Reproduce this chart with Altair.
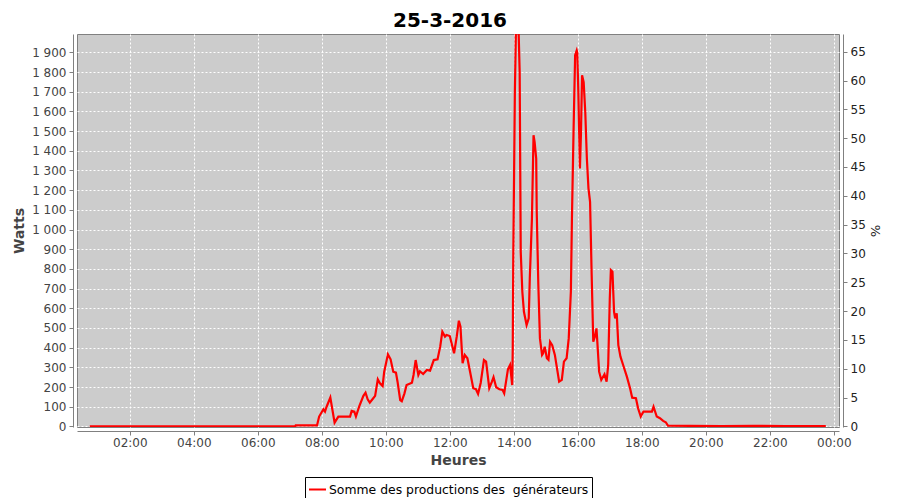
import altair as alt
import pandas as pd

# ---- data ----
times = ["00:45", "07:10", "07:11", "07:51", "07:55", "08:03", "08:06", "08:09", "08:16", "08:24",
         "08:31", "08:53", "08:56", "09:01", "09:04", "09:10", "09:18", "09:22", "09:26", "09:30",
         "09:35", "09:40", "09:45", "09:49", "09:54", "09:57", "10:04", "10:09", "10:14", "10:19",
         "10:22", "10:27", "10:30", "10:35", "10:39", "10:49", "10:52", "10:56", "11:01", "11:04",
         "11:10", "11:17", "11:23", "11:30", "11:37", "11:42", "11:46", "11:51", "11:54", "12:00",
         "12:05", "12:08", "12:13", "12:17", "12:20", "12:24", "12:28", "12:33", "12:38", "12:44",
         "12:49", "12:53", "12:58", "13:04", "13:08", "13:14", "13:19", "13:22", "13:27", "13:33",
         "13:39", "13:42", "13:49", "13:53", "13:57", "13:58", "13:59", "14:02", "14:04", "14:09",
         "14:11", "14:13", "14:16", "14:19", "14:24", "14:28", "14:30", "14:34", "14:37", "14:39",
         "14:42", "14:43", "14:46", "14:49", "14:53", "14:55", "14:58", "15:02", "15:05", "15:08",
         "15:12", "15:17", "15:22", "15:25", "15:30", "15:34", "15:39", "15:43", "15:47", "15:49",
         "15:52", "15:55", "15:58", "15:59", "16:01", "16:04", "16:06", "16:08", "16:11", "16:14",
         "16:17", "16:20", "16:23", "16:26", "16:29", "16:32", "16:35", "16:37", "16:40", "16:44",
         "16:50", "16:54", "16:57", "17:00", "17:02", "17:05", "17:08", "17:10", "17:13", "17:16",
         "17:20", "17:25", "17:32", "17:38", "17:42", "17:49", "17:53", "17:58", "18:03", "18:12",
         "18:19", "18:22", "18:28", "18:34", "18:40", "18:45", "18:49", "19:30", "20:30", "21:30",
         "22:30", "23:45"]
watts = [0, 0, 5, 5, 50, 87, 75, 100, 147, 19,
         50, 50, 79, 75, 50, 100, 155, 171, 138, 121,
         138, 155, 239, 219, 205, 278, 366, 341, 278, 273,
         227, 134, 128, 168, 210, 222, 261, 337, 261, 280,
         266, 287, 283, 337, 341, 405, 481, 456, 464, 459,
         405, 371, 456, 537, 506, 321, 363, 346, 278, 194,
         189, 165, 222, 337, 329, 194, 227, 250, 199, 189,
         185, 168, 290, 312, 210, 388, 853, 1699, 2010, 2010,
         1800, 887, 684, 582, 515, 549, 752, 1056, 1479, 1445,
         1361, 1090, 718, 447, 363, 371, 405, 346, 338, 430,
         413, 363, 278, 227, 236, 329, 346, 447, 684, 1056,
         1496, 1885, 1910, 1900, 1699, 1310, 1496, 1783, 1749, 1597,
         1361, 1209, 1141, 769, 430, 456, 498, 413, 278, 236,
         265, 227, 312, 650, 794, 786, 582, 549, 574, 413,
         354, 312, 253, 194, 146, 143, 92, 50, 75, 75,
         75, 100, 50, 42, 28, 21, 4, 3, 2, 3,
         2, 2]

series_name = "Somme des productions des\u00a0 générateurs"
title_text = ["25-3-2016"]
x_tick_minutes = [120, 240, 360, 480, 600, 720, 840, 960, 1080, 1200, 1320, 1440]
y_ticks_watts = list(range(0, 2000, 100))
y_ticks_pct = list(range(0, 70, 5))
watts_per_pct = 29.28
x_domain = [21, 1449.75]
y_domain = [-3, 1993]

df = pd.DataFrame({"t": times, "w": watts})
df["minutes"] = df["t"].str.slice(0, 2).astype(int) * 60 + df["t"].str.slice(3, 5).astype(int)
df["pct"] = df["w"] / watts_per_pct
df["serie"] = series_name

FONT = "DejaVu Sans"

x_enc = alt.X(
    "minutes:Q",
    scale=alt.Scale(domain=x_domain, nice=False, zero=False),
    axis=alt.Axis(
        values=x_tick_minutes,
        labelExpr="pad(toString(floor(datum.value / 60) % 24), 2, '0', 'left') + ':00'",
        title="Heures",
        titleFont=FONT, titleFontSize=14, titleFontWeight="bold", titleColor="#444444",
        titlePadding=5,
        labelFont=FONT, labelFontSize=12, labelColor="#444444", labelPadding=2,
        offset=4, tickSize=4, tickColor="#808080", domainColor="#808080",
        labelFlush=False, labelOverlap=False,
        grid=True,
    ),
)

line = alt.Chart(df).mark_line(strokeWidth=2.2, clip=True).encode(
    x=x_enc,
    y=alt.Y(
        "w:Q",
        scale=alt.Scale(domain=y_domain, nice=False, zero=False),
        axis=alt.Axis(
            values=y_ticks_watts,
            labelExpr="replace(format(datum.value, ','), ',', ' ')",
            title="Watts",
            titleFont=FONT, titleFontSize=14, titleFontWeight="bold", titleColor="#444444",
            titlePadding=5,
            labelFont=FONT, labelFontSize=12, labelColor="#444444", labelPadding=3,
            offset=4, tickSize=4, tickColor="#808080", domainColor="#808080",
            labelOverlap=False, labelFlush=False,
            grid=True,
        ),
    ),
    color=alt.Color(
        "serie:N",
        scale=alt.Scale(range=["#ff0000"]),
        legend=alt.Legend(
            title=None,
            orient="none",
            legendX=228,
            legendY=443,
            strokeColor="black",
            fillColor="white",
            padding=3,
            symbolType="stroke",
            symbolSize=289,
            symbolStrokeWidth=2,
            labelFont=FONT,
            labelFontSize=12.4,
            labelColor="black",
            labelOffset=2,
            labelLimit=500,
            cornerRadius=0,
        ),
    ),
)

pct_layer = alt.Chart(df).mark_line(opacity=0, clip=True).encode(
    x=x_enc,
    y=alt.Y(
        "pct:Q",
        scale=alt.Scale(domain=[y_domain[0] / watts_per_pct, y_domain[1] / watts_per_pct], nice=False, zero=False),
        axis=alt.Axis(
            orient="right",
            values=y_ticks_pct,
            title="%",
            titleFont=FONT, titleFontSize=13, titleFontWeight="normal", titleColor="#222222",
            titlePadding=2,
            labelFont=FONT, labelFontSize=12, labelColor="#222222", labelPadding=3,
            offset=4, tickSize=4, tickColor="#808080", domainColor="#808080",
            labelOverlap=False, labelFlush=False,
            grid=False,
        ),
    ),
)

title_layer = alt.Chart(pd.DataFrame({"label": title_text})).mark_text(
    font=FONT, fontSize=20, fontWeight="bold", color="black",
    align="center", baseline="alphabetic",
).encode(
    x=alt.value(373),
    y=alt.value(-7),
    text="label:N",
)

chart = (
    alt.layer(line, pct_layer, title_layer)
    .resolve_scale(y="independent")
    .properties(
        width=762,
        height=393,
        autosize=alt.AutoSizeParams(type="none"),
        padding={"left": 69, "top": 26, "right": 53, "bottom": 71},
    )
    .configure_view(fill="#cccccc", stroke="#808080", strokeWidth=1)
    .configure_axis(gridColor="white", gridDash=[2, 2], gridWidth=1, gridOpacity=1)
)

chart.save("out.html", embed_options={"renderer": "svg", "actions": False})
